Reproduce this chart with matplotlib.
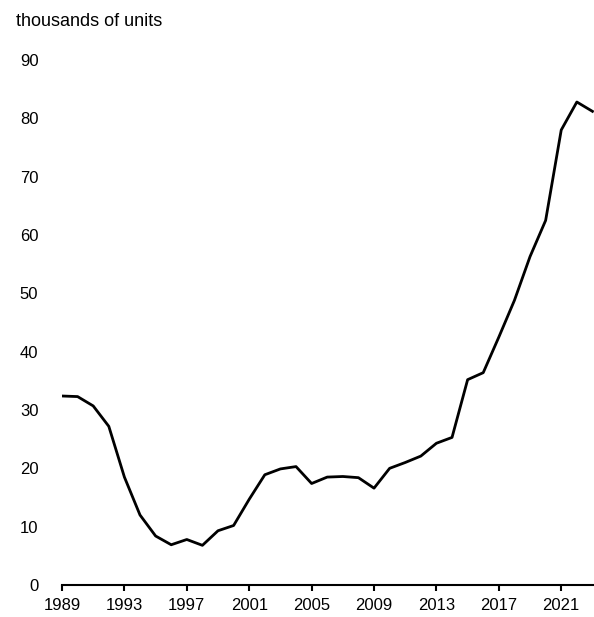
import matplotlib
matplotlib.use("Agg")
import matplotlib.pyplot as plt
import numpy as np

plt.rcParams['font.family'] = ['Liberation Sans', 'DejaVu Sans']

# annual values, thousands of units
years = list(range(1989, 2024))
units = [32.4, 32.3, 30.7, 27.2, 18.5, 12.0, 8.4, 6.9, 7.8, 6.8,
         9.3, 10.2, 14.7, 18.9, 19.9, 20.3, 17.4, 18.5, 18.6, 18.4,
         16.6, 20.0, 21.0, 22.1, 24.3, 25.3, 35.2, 36.4, 42.5, 48.8,
         56.3, 62.5, 78.0, 82.8, 81.2]
xticks = list(range(1989, 2022, 4))
yticks = list(range(0, 91, 10))

fig = plt.figure(figsize=(5.94, 6.17), dpi=100)
ax = fig.add_axes([62/594, 32/617, 532/594, 525/617])

ax.plot(years, units, color='black', lw=2.0, solid_joinstyle='round')

ax.set_xlim(1989, 2023.1)
ax.set_ylim(0, 90)
ax.set_xticks(xticks)
ax.set_yticks(yticks)

for s in ['top', 'right', 'left']:
    ax.spines[s].set_visible(False)
ax.spines['bottom'].set_linewidth(1.5)
ax.spines['bottom'].set_zorder(0)

ax.tick_params(axis='x', direction='out', length=4, width=1.5, pad=5,
               labelsize=12, colors='black')
ax.tick_params(axis='y', length=0, pad=17, labelsize=12, colors='black')

fig.text(16/594, 1 - 22/617, 'thousands of units', fontsize=13,
         ha='left', va='center')

fig.savefig('out.png', dpi=100)
